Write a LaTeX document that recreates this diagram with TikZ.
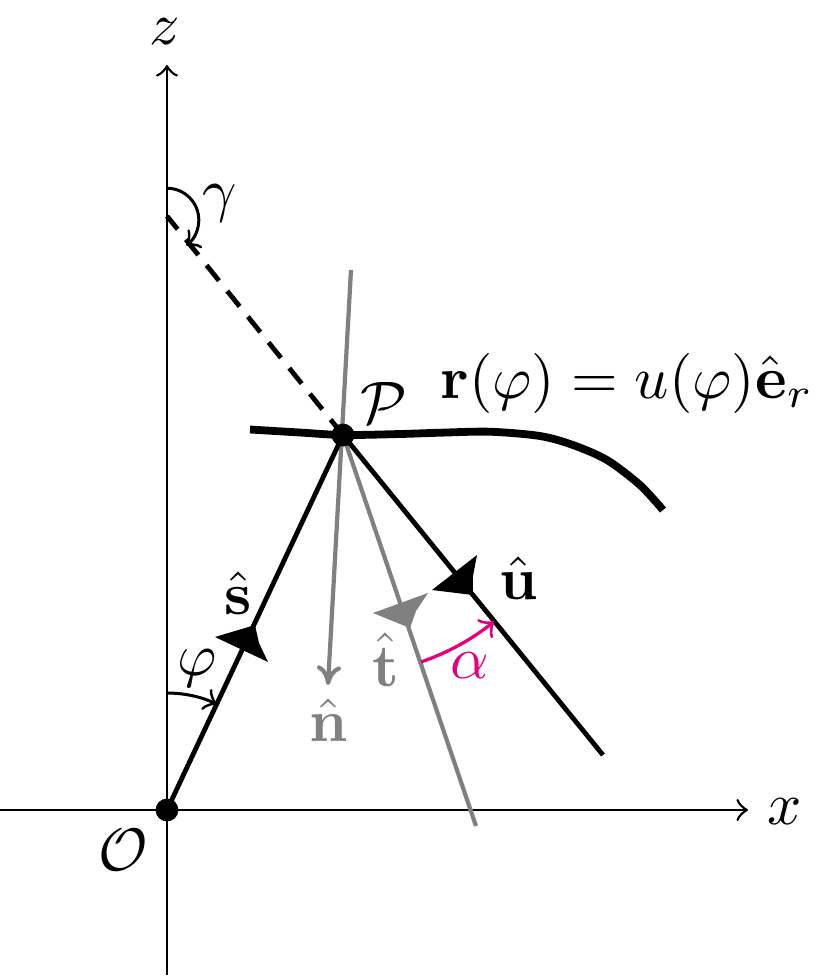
\documentclass[tikz,border=0pt]{standalone}
\usepackage{amsmath,amssymb}
\usetikzlibrary{arrows.meta}
\definecolor{alphacol}{RGB}{230,0,126}
\begin{document}
\begin{tikzpicture}[x=0.16667pt,y=-0.16667pt,
  axis/.style={line width=0.45pt,-to},
  vecline/.style={line width=0.8pt},
  grayline/.style={gray,line width=0.7pt},
  curvestyle/.style={line width=1.3pt},
  dot/.style={circle,fill,inner sep=0pt,minimum size=3.8pt},
  lbl/.style={inner sep=0pt},
  thinarc/.style={line width=0.5pt,-to}]
\useasboundingbox (0,0) rectangle (832,978);
% coordinates
\coordinate (O) at (167,810);
\coordinate (P) at (343,435);
\coordinate (zb) at (167,975);
\coordinate (zt) at (167,65);
\coordinate (xl) at (0,810);
\coordinate (xr) at (748,810);
\coordinate (G) at (167,216);
\coordinate (Gc) at (167,220);
\coordinate (nt) at (351,270);
\coordinate (ne) at (328,685);
\coordinate (te) at (476,826);
\coordinate (ue) at (603,755);
% axes
\draw[axis] (xl) -- (xr);
\draw[axis] (zb) -- (zt);
\node[lbl] (zlab) at (165,32) {$z$};
\node[lbl] (xlab) at (785,812) {$x$};
\node[lbl] (Olab) at (123,850) {$\mathcal{O}$};
% gray lines
\draw[grayline,-{To[length=3.2pt,width=4pt]}] (nt) -- (ne);
\draw[grayline] (P) -- (te);
\fill[gray] (373,613) -- (428,593) -- (416,611) -- (410,628) -- cycle;
% black lines
\draw[vecline] (O) -- (P);
\draw[vecline] (P) -- (ue);
\draw[vecline,dash pattern=on 3.3pt off 2.2pt] (P) -- (G);
\fill (215,637) -- (255,625) -- (259,643) -- (268,662) -- cycle;
\fill (432,590) -- (477,555) -- (473,576) -- (473,595) -- cycle;
% curve
\draw[curvestyle] plot[smooth] coordinates {(250,429.5) (300,432.5) (343,435) (400,434) (440,432.7) (490,431.7) (540,436) (573,445) (607,460) (640,485) (663,510)};
% dots
\node[dot] (Pd) at (P) {};
\node[dot] (Od) at (O) {};
% arcs
\draw[thinarc] ([shift={(90:5.3pt)}]Gc) arc[start angle=90,end angle=-53,radius=5.3pt];
\draw[thinarc] ([shift={(90:19.5pt)}]O) arc[start angle=90,end angle=64.9,radius=19.5pt];
\draw[alphacol,line width=0.55pt,-to] ([shift={(-71:40pt)}]P) arc[start angle=-71,end angle=-51,radius=40pt];
% labels
\node[lbl] (Plab) at (384,403) {$\mathcal{P}$};
\node[lbl,anchor=base] (eq) at (627,398) {$\mathbf{r}(\varphi)=u(\varphi)\hat{\mathbf{e}}_r$};
\node[lbl] (slab) at (238,593) {$\hat{\mathbf{s}}$};
\node[lbl] (ulab) at (519,578) {$\hat{\mathbf{u}}$};
\node[lbl,text=gray] (tlab) at (386,660) {$\hat{\mathbf{t}}$};
\node[lbl,text=gray] (nlab) at (329,720) {$\hat{\mathbf{n}}$};
\node[lbl] (philab) at (197,668) {$\varphi$};
\node[lbl] (gamlab) at (220,203) {$\gamma$};
\node[lbl,text=alphacol] (alab) at (470,666) {$\alpha$};
\end{tikzpicture}
\end{document}
